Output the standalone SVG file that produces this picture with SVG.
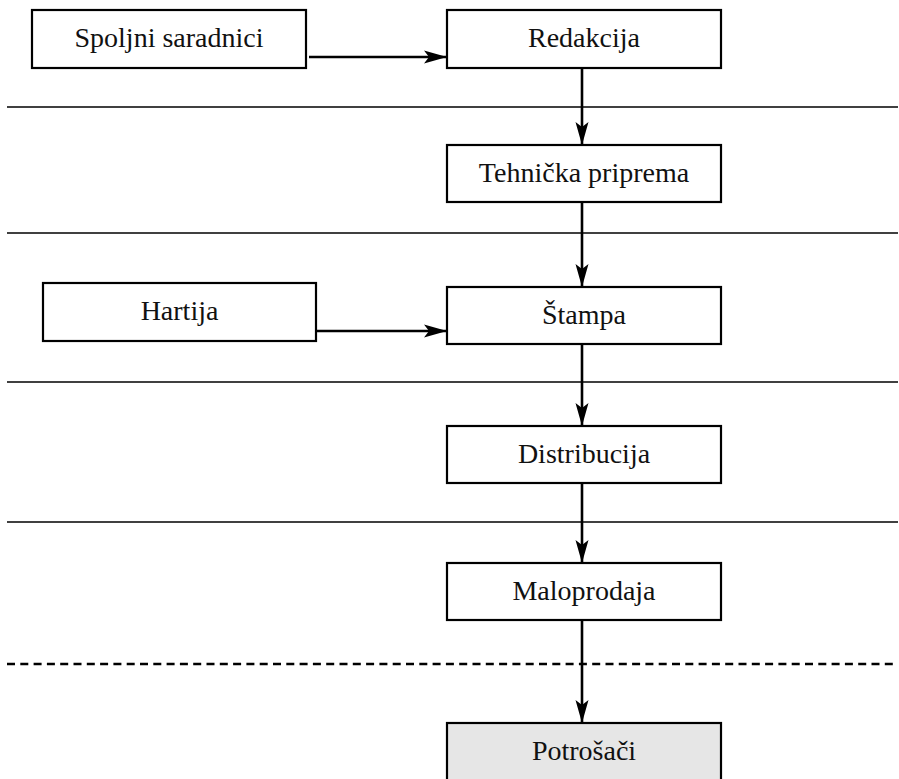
<svg xmlns="http://www.w3.org/2000/svg" width="899" height="779" viewBox="0 0 899 779">
<style>
.box{fill:#fff;stroke:#000;stroke-width:2.2}
.shade{fill:#e6e6e6}
.lbl{font-family:"Liberation Serif","DejaVu Serif",serif;font-size:28px;fill:#111;text-anchor:middle}
.sep{stroke:#000;stroke-width:1.4}
.dash{stroke:#000;stroke-width:2.6;stroke-dasharray:8 5.3}
.arr{stroke:#000;stroke-width:2.6;fill:none;marker-end:url(#ah)}
</style>
<defs>
<marker id="ah" markerUnits="userSpaceOnUse" markerWidth="26" markerHeight="16" refX="23" refY="8" orient="auto">
<path d="M0,1.5 L23,8 L0,14.5 L5,8 Z" fill="#000"/>
</marker>
</defs>
<g id="separators">
<line class="sep" x1="7" y1="107" x2="898" y2="107"/>
<line class="sep" x1="7" y1="233" x2="898" y2="233"/>
<line class="sep" x1="7" y1="382" x2="898" y2="382"/>
<line class="sep" x1="7" y1="522" x2="898" y2="522"/>
<line class="dash" x1="7" y1="664" x2="895" y2="664"/>
</g>
<g id="connectors">
<line class="arr" x1="309" y1="57" x2="447" y2="57"/>
<line class="arr" x1="316" y1="331" x2="447" y2="331"/>
<line class="arr" x1="582" y1="68" x2="582" y2="145"/>
<line class="arr" x1="582" y1="202" x2="582" y2="287"/>
<line class="arr" x1="582" y1="344" x2="582" y2="426"/>
<line class="arr" x1="582" y1="483" x2="582" y2="563"/>
<line class="arr" x1="582" y1="620" x2="582" y2="723"/>
</g>
<g id="spoljni"><rect class="box" x="32" y="10" width="274" height="58"/><text class="lbl" x="169" y="47">Spoljni saradnici</text></g>
<g id="redakcija"><rect class="box" x="447" y="10" width="274" height="58"/><text class="lbl" x="584" y="47">Redakcija</text></g>
<g id="tehnicka"><rect class="box" x="447" y="145" width="274" height="57"/><text class="lbl" x="584" y="182">Tehnička priprema</text></g>
<g id="hartija"><rect class="box" x="43" y="283" width="273" height="58"/><text class="lbl" x="179.5" y="320">Hartija</text></g>
<g id="stampa"><rect class="box" x="447" y="287" width="274" height="57"/><text class="lbl" x="584" y="324">Štampa</text></g>
<g id="distribucija"><rect class="box" x="447" y="426" width="274" height="57"/><text class="lbl" x="584" y="463">Distribucija</text></g>
<g id="maloprodaja"><rect class="box" x="447" y="563" width="274" height="57"/><text class="lbl" x="584" y="600">Maloprodaja</text></g>
<g id="potrosaci"><rect class="box shade" x="447" y="723" width="274" height="70"/><text class="lbl" x="584" y="760">Potrošači</text></g>
</svg>
